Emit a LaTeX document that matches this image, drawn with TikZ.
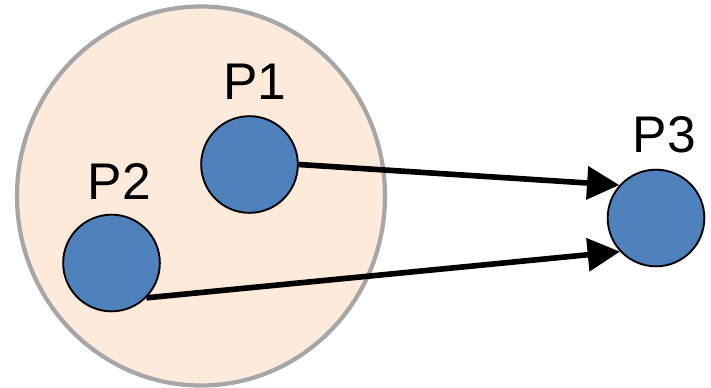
\documentclass[tikz,border=0pt]{standalone}
\usepackage{fontspec}
\setmainfont{Liberation Sans}
\usepackage{xcolor}
\usetikzlibrary{arrows.meta,positioning,shapes.geometric}
\definecolor{PointBlue}{HTML}{4F81BD}
\definecolor{GroupPeach}{HTML}{FDEADA}
\definecolor{GroupGray}{HTML}{A6A6A6}
\tikzset{
  group/.style={ellipse, draw=GroupGray, fill=GroupPeach, line width=3.6pt, minimum width=11.04cm, minimum height=11.37cm, inner sep=0pt},
  point/.style={circle, draw=black, fill=PointBlue, line width=1.6pt, minimum size=2.9cm, inner sep=0pt},
  plabel/.style={font=\fontsize{44}{50}\selectfont, inner sep=0pt},
  arrow/.style={-{Triangle[length=0.97cm, width=0.97cm]}, line width=4.8pt, draw=black}
}
\begin{document}
\begin{tikzpicture}[x=0.03cm, y=-0.03cm]
\useasboundingbox (0,0) rectangle (711,387);

\node[group] (grp) at (201,196) {};

\node[point] (p1) at (249.5,164.5) {};
\node[point] (p2) at (111.5,263) {};
\node[point] (p3) at (656,218) {};

\node[plabel] (l1) at (255,82) {P1};
\node[plabel] (l2) at (119.5,181.5) {P2};
\node[plabel] (l3) at (664.5,134.5) {P3};

\draw[arrow] (p1.east) -- (p3.138);
\draw[arrow] (p2.-45) -- (p3.223);
\end{tikzpicture}
\end{document}
